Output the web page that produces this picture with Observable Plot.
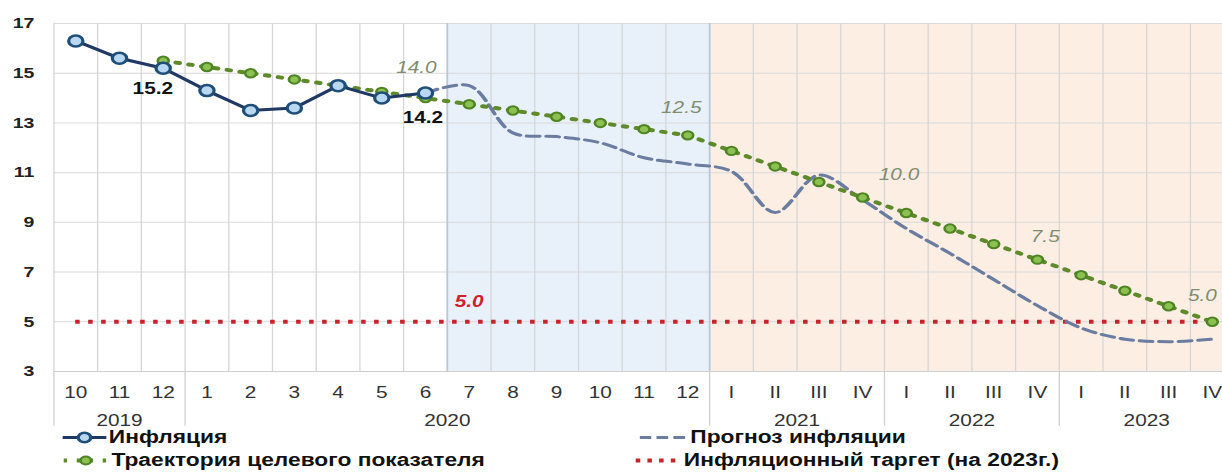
<!DOCTYPE html>
<html><head><meta charset="utf-8">
<script src="https://cdn.jsdelivr.net/npm/d3@7"></script>
<script src="https://cdn.jsdelivr.net/npm/@observablehq/plot@0.6"></script>
<style>
html,body{margin:0;padding:0;background:#fff;overflow:hidden;}
#wrap{width:1240px;position:relative;}
#chart svg{display:block;}
#legend{position:relative;height:46px;width:954px;transform:scaleX(1.3);transform-origin:0 0;font-family:"Liberation Sans",Arial,sans-serif;font-weight:bold;font-size:17.5px;color:#111;}
.item{position:absolute;display:flex;align-items:center;height:23px;white-space:nowrap;}
.item svg{margin-right:2px;}
</style></head><body><div id="wrap"><div id="chart"></div><div id="legend"></div></div>
<script>
// ---- data ----
const periods = ["10","11","12","1","2","3","4","5","6","7","8","9","10","11","12",
  "I","II","III","IV","I","II","III","IV","I","II","III","IV"];
const years = ["2019","2020","2021","2022","2023"];
const yearFirst = [0, 3, 15, 19, 23];   // first period index of each year
const yearLast  = [2, 14, 18, 22, 26];  // last period index of each year
const yTicks = [3, 5, 7, 9, 11, 13, 15, 17];
// actual inflation, from period 0 (Oct 2019)
const inflation = [16.3, 15.6, 15.2, 14.3, 13.5, 13.6, 14.5, 14.0, 14.2];
// target trajectory, from period 2 (Dec 2019)
const target = [15.5, 15.25, 15.0, 14.75, 14.5, 14.25, 14.0,
  13.75, 13.5, 13.25, 13.0, 12.75, 12.5,
  11.875, 11.25, 10.625, 10.0,
  9.375, 8.75, 8.125, 7.5,
  6.875, 6.25, 5.625, 5.0];
// inflation forecast, from period 8 (Jun 2020)
const forecast = [14.2, 14.5, 12.6, 12.45, 12.2, 11.6, 11.35,
  11.05, 9.4, 10.9, 9.9,
  8.75, 7.75, 6.7, 5.65,
  4.75, 4.3, 4.2, 4.3];
const inflationTarget = 5.0;
const shadeMonths = [9, 14];    // Jul–Dec 2020
const shadeQuarters = [15, 26]; // 2021–2023
const inflLabelIdx = [2, 8];
const targetLabelIdx = [8, 14, 18, 22, 26];
const legendLabels = ["Инфляция", "Траектория целевого показателя", "Прогноз инфляции", "Инфляционный таргет (на 2023г.)"];

// ---- build ----
const infl = inflation.map((v, k) => ({i: k, v}));
const targ = target.map((v, k) => ({i: k + 2, v}));
const fc = forecast.map((v, k) => ({i: k + 8, v}));
const fmt = d3.format(".1f");

const W = 954, H = 426, STRETCH = 1.3;
const font = "'Liberation Sans', Arial, sans-serif";
const inflLbl = (idx, dx, dy) => Plot.text(infl.filter(d => d.i === idx), {x: "i", y: "v", text: d => fmt(d.v), dx, dy, fontSize: 16, fontWeight: "bold", fill: "#111"});
const targLbl = (idx, dx, dy, anchor = "middle") => Plot.text(targ.filter(d => d.i === idx), {x: "i", y: "v", text: d => fmt(d.v), dx, dy, textAnchor: anchor, fontSize: 16, fontStyle: "italic", fill: "#7f8c70"});

const chart = Plot.plot({
  width: W, height: H,
  marginLeft: 41, marginRight: 5, marginTop: 23, marginBottom: 55,
  style: {fontFamily: font, background: "#fff", overflow: "visible"},
  x: {type: "linear", domain: [-0.5, periods.length - 0.5], axis: null},
  y: {domain: [3, 17], axis: null},
  marks: [
    Plot.rect([shadeMonths], {x1: d => d[0] - 0.5, x2: d => d[1] + 0.5, fill: "#e8f1fa"}),
    Plot.rect([shadeQuarters], {x1: d => d[0] - 0.5, x2: d => d[1] + 0.5, fill: "#fdeee3"}),
    Plot.ruleY(yTicks, {stroke: "#d9d9d9", strokeWidth: 1}),
    Plot.ruleX(d3.range(periods.length + 1).map(i => i - 0.5), {stroke: "#d6d6d6", strokeWidth: 1}),
    Plot.ruleX([shadeMonths[0] - 0.5, shadeMonths[1] + 0.5], {stroke: "#b9c8d8", strokeWidth: 1.3}),
    Plot.ruleX(yearFirst.map(i => i - 0.5), {y1: 3, y2: 0.8, stroke: "#d0d0d0", strokeWidth: 1}),
    Plot.ruleY([3], {stroke: "#cfcfcf"}),
    Plot.ruleY([inflationTarget], {x1: () => 0, x2: () => periods.length - 1, stroke: "#c8232c", strokeWidth: 4, strokeDasharray: "3.5,6.5"}),
    Plot.text([inflationTarget], {x: () => 9, y: d => d, text: d => fmt(d), dy: -20, fontSize: 16, fontWeight: "bold", fontStyle: "italic", fill: "#d0202a"}),
    Plot.line(fc, {x: "i", y: "v", curve: "catmull-rom", stroke: "#6a7ca0", strokeWidth: 3, strokeDasharray: "10,5"}),
    Plot.line(targ, {x: "i", y: "v", stroke: "#5f8a2b", strokeWidth: 4, strokeDasharray: "2.6,7.4"}),
    Plot.dot(targ, {x: "i", y: "v", r: 4.2, fill: "#8cc152", stroke: "#4e8424", strokeWidth: 2}),
    Plot.line(infl, {x: "i", y: "v", stroke: "#1f3864", strokeWidth: 3}),
    Plot.dot(infl, {x: "i", y: "v", r: 5.5, fill: "#b9d7f1", stroke: "#1f4e79", strokeWidth: 2.5}),
    inflLbl(inflLabelIdx[0], -8, 21),
    inflLbl(inflLabelIdx[1], -2, 25),
    targLbl(targetLabelIdx[0], -7, -30),
    targLbl(targetLabelIdx[1], -5, -27),
    targLbl(targetLabelIdx[2], 28, -23),
    targLbl(targetLabelIdx[3], 6, -23),
    targLbl(targetLabelIdx[4], 3.5, -26, "end"),
    Plot.axisY(yTicks, {tickSize: 0, tickPadding: 15, fontSize: 15, fontWeight: "bold", fill: "#222", label: null}),
    Plot.axisX(d3.range(periods.length), {tickSize: 0, tickPadding: 15, tickFormat: i => periods[i], fontSize: 16, fill: "#333", label: null}),
    Plot.text(years, {x: (d, k) => (yearFirst[k] + yearLast[k]) / 2, y: () => 3, dy: 49, fontSize: 16, fill: "#333"})
  ]
});
chart.setAttribute("viewBox", `0 0 ${W} ${H}`);
chart.setAttribute("preserveAspectRatio", "none");
chart.setAttribute("width", Math.round(W * STRETCH));
chart.setAttribute("height", H);
chart.style.maxWidth = "none";
chart.style.width = Math.round(W * STRETCH) + "px";
chart.style.height = H + "px";
document.getElementById("chart").appendChild(chart);

// ---- legend ----
const sw = {
  infl: `<svg width="34" height="23"><line x1="0" y1="11.5" x2="34" y2="11.5" stroke="#1f3864" stroke-width="3"/><circle cx="17" cy="11.5" r="4.8" fill="#b9d7f1" stroke="#1f4e79" stroke-width="2.5"/></svg>`,
  targ: `<svg width="36" height="23"><line x1="1" y1="11.5" x2="36" y2="11.5" stroke="#5f8a2b" stroke-width="4" stroke-dasharray="2.6,7.4"/><circle cx="18" cy="11.5" r="4" fill="#8cc152" stroke="#4e8424" stroke-width="2"/></svg>`,
  fc: `<svg width="37" height="23"><line x1="0" y1="11.5" x2="37" y2="11.5" stroke="#6a7ca0" stroke-width="3" stroke-dasharray="9,4"/></svg>`,
  tgt: `<svg width="36" height="23"><line x1="1" y1="11.5" x2="36" y2="11.5" stroke="#c8232c" stroke-width="4" stroke-dasharray="3.5,5.5"/></svg>`
};
const items = [
  {sw: sw.infl, text: legendLabels[0], left: 47.7, top: 0},
  {sw: sw.targ, text: legendLabels[1], left: 47.7, top: 23},
  {sw: sw.fc, text: legendLabels[2], left: 492, top: 0},
  {sw: sw.tgt, text: legendLabels[3], left: 488, top: 23}
];
const lg = document.getElementById("legend");
for (const it of items) {
  const d = document.createElement("div");
  d.className = "item";
  d.style.left = it.left + "px";
  d.style.top = it.top + "px";
  d.innerHTML = it.sw + `<span>${it.text}</span>`;
  lg.appendChild(d);
}
</script></body></html>
